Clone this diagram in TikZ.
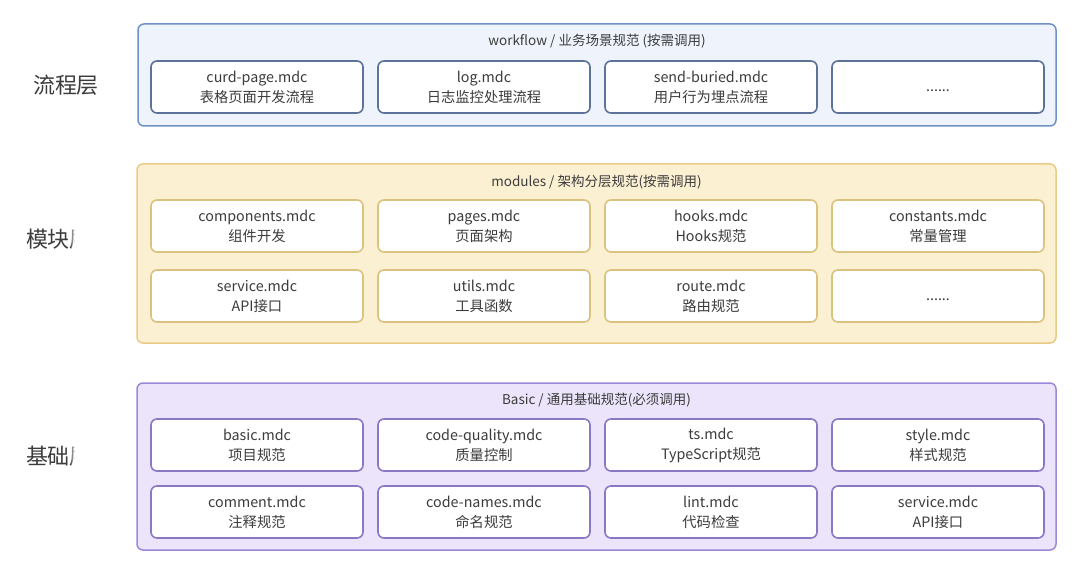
\documentclass[tikz,border=0pt]{standalone}
\usepackage{fontspec}
\setmainfont{Noto Sans CJK SC}
\usetikzlibrary{fadings}
\definecolor{txt}{HTML}{3C3C3C}
\definecolor{bluefill}{HTML}{EEF3FC}
\definecolor{blueline}{HTML}{7090C8}
\definecolor{blueboxline}{HTML}{5D7298}
\definecolor{yelfill}{HTML}{FCF0D3}
\definecolor{yelline}{HTML}{EACB86}
\definecolor{yelboxline}{HTML}{DCC27F}
\definecolor{purfill}{HTML}{EBE4FB}
\definecolor{purline}{HTML}{9C88D8}
\definecolor{purboxline}{HTML}{8A78C4}
\tikzfading[name=hidefade, left color=transparent!100, right color=transparent!0]
\begin{document}
\begin{tikzpicture}[x=1pt,y=-1pt,
  panel/.style={draw, rounded corners=6pt, line width=1.5pt, inner sep=0pt},
  card/.style={draw, fill=white, rounded corners=6pt, line width=1.6pt,
    minimum width=212pt, minimum height=52pt, inner sep=0pt, align=center,
    text=txt, font=\fontsize{14.3}{20}\selectfont,
    execute at begin node={\rule{0pt}{15pt}}},
  ptitle/.style={text=txt, font=\fontsize{13.5}{16}\selectfont, inner sep=0pt},
  layerlabel/.style={text=txt, font=\fontsize{22}{26}\selectfont, inner sep=0pt}]
\useasboundingbox (0,0) rectangle (1080,575);
\fill[white] (0,0) rectangle (1080,575);

% layer labels
\node[layerlabel] (lflow) at (66,85) {流程层};
\node[layerlabel] (lmod) at (59,239) {模块层};
\node[layerlabel] (lbase) at (59,456) {基础层};
\fill[white, path fading=hidefade] (70,220) rectangle (75,258);
\fill[white] (75,220) rectangle (110,258);
\fill[white, path fading=hidefade] (70,437) rectangle (75,475);
\fill[white] (75,437) rectangle (110,475);

% panels
\node[panel, fill=bluefill, draw=blueline, minimum width=918pt, minimum height=102pt] (pflow) at (597,75) {};
\node[panel, fill=yelfill, draw=yelline, minimum width=919pt, minimum height=179pt] (pmod) at (596.5,253.5) {};
\node[panel, fill=purfill, draw=purline, minimum width=919pt, minimum height=167pt] (pbase) at (596.5,466.5) {};

% titles
\node[ptitle] (tflow) at (597,41) {workflow / 业务场景规范 (按需调用)};
\node[ptitle] (tmod) at (596.5,182) {modules / 架构分层规范(按需调用)};
\node[ptitle] (tbase) at (596.5,400) {Basic / 通用基础规范(必须调用)};

% workflow cards
\begin{scope}[every node/.append style={card, draw=blueboxline}]
\node (f1) at (257,87) {curd-page.mdc\\表格页面开发流程};
\node (f2) at (484,87) {log.mdc\\日志监控处理流程};
\node (f3) at (711,87) {send-buried.mdc\\用户行为埋点流程};
\node (f4) at (938,87) {\strut......};
\end{scope}

% modules cards
\begin{scope}[every node/.append style={card, draw=yelboxline}]
\node (m1) at (257,226) {components.mdc\\组件开发};
\node (m2) at (484,226) {pages.mdc\\页面架构};
\node (m3) at (711,226) {hooks.mdc\\Hooks规范};
\node (m4) at (938,226) {constants.mdc\\常量管理};
\node (m5) at (257,296) {service.mdc\\API接口};
\node (m6) at (484,296) {utils.mdc\\工具函数};
\node (m7) at (711,296) {route.mdc\\路由规范};
\node (m8) at (938,296) {\strut......};
\end{scope}

% basic cards
\begin{scope}[every node/.append style={card, draw=purboxline}]
\node (b1) at (257,445) {basic.mdc\\项目规范};
\node (b2) at (484,445) {code-quality.mdc\\质量控制};
\node (b3) at (711,445) {ts.mdc\\TypeScript规范};
\node (b4) at (938,445) {style.mdc\\样式规范};
\node (b5) at (257,512) {comment.mdc\\注释规范};
\node (b6) at (484,512) {code-names.mdc\\命名规范};
\node (b7) at (711,512) {lint.mdc\\代码检查};
\node (b8) at (938,512) {service.mdc\\API接口};
\end{scope}
\end{tikzpicture}
\end{document}
